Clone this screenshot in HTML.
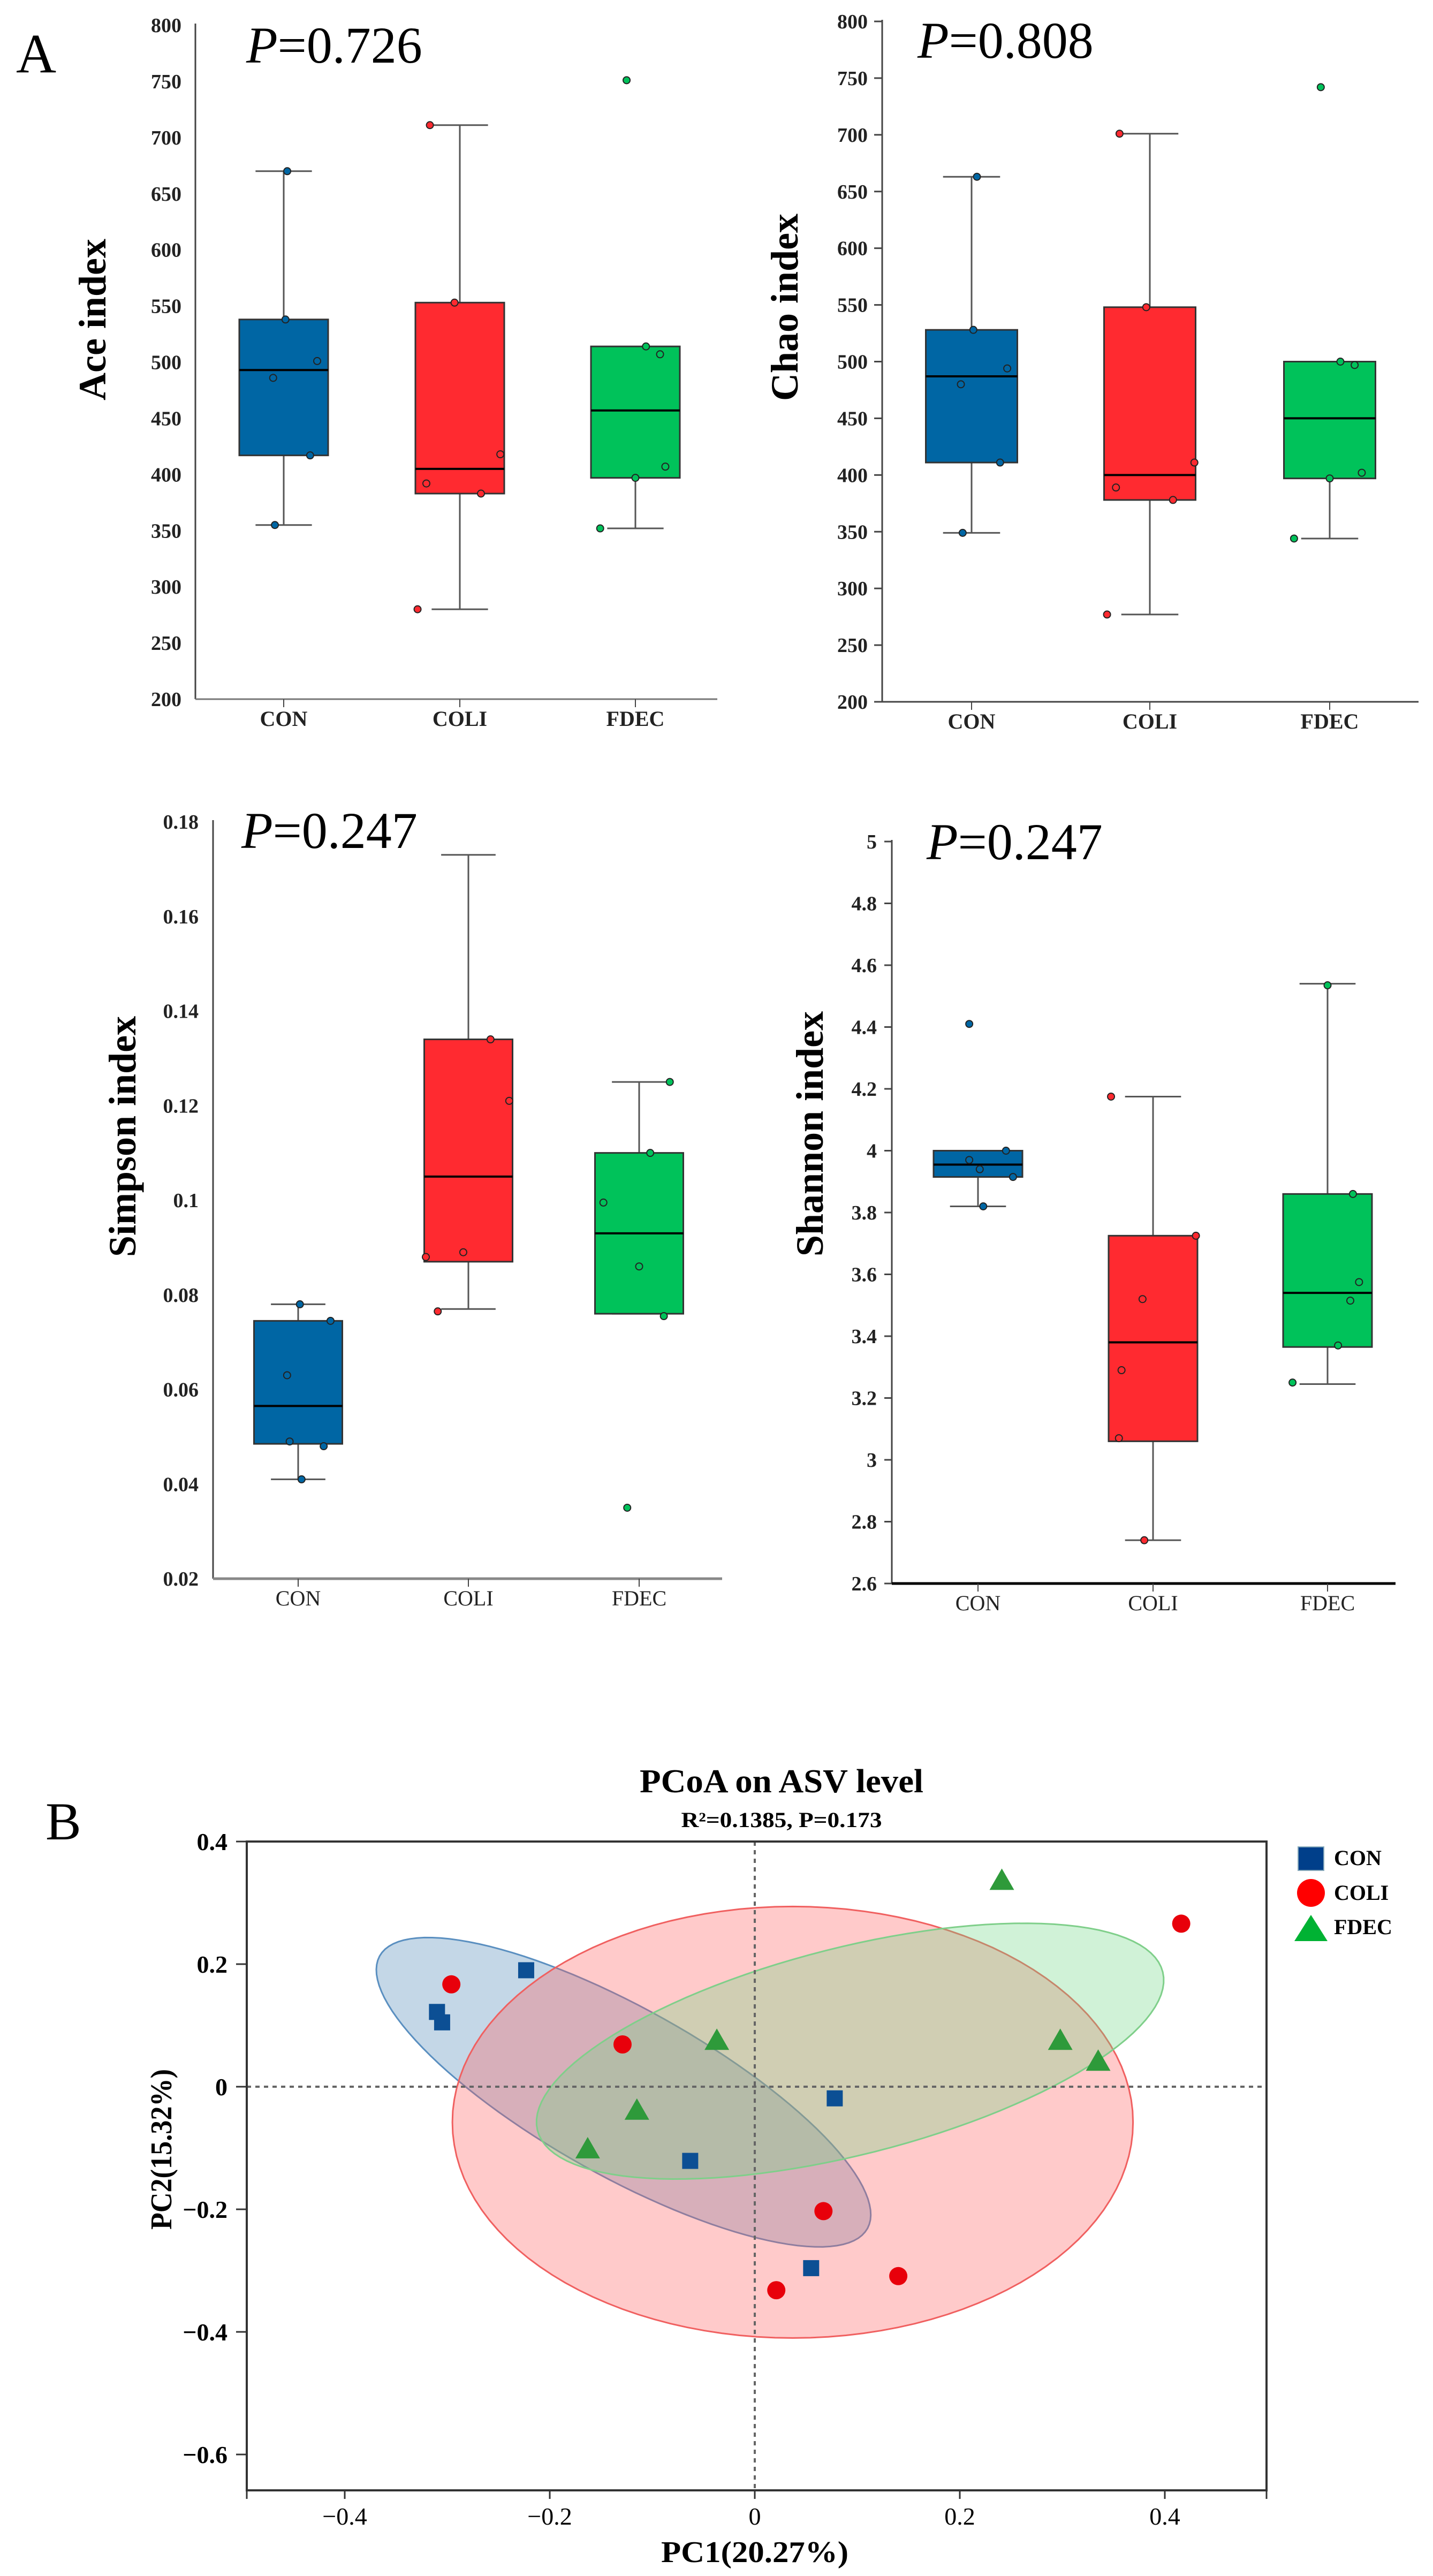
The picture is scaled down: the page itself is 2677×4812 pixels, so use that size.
<!DOCTYPE html>
<html><head><meta charset="utf-8"><style>
html,body{margin:0;padding:0;background:#fff}
svg{display:block}
text{font-family:"Liberation Serif",serif}
</style></head><body>
<svg id="fig" xmlns="http://www.w3.org/2000/svg" width="2677" height="4812" viewBox="0 0 2677 4812">
<text x="30" y="135" font-size="104">A</text>
<text x="85" y="3436" font-size="100">B</text>
<g id="boxes"></g>
<g id="pcoa"></g>
</svg>
<script>
const groups=["CON","COLI","FDEC"];
const colors=["#0066a4","#ff2a30","#00c25a"];
// Ace
const aceValues=[[670,538,501,486,417,355],[711,553,418,392,383,280],[751,514,507,407,397,352]];
const aceJitter=[[0.02,0.01,0.19,-0.06,0.15,-0.05],[-0.17,-0.03,0.23,-0.19,0.12,-0.24],[-0.05,0.06,0.14,0.17,0,-0.2]];
const aceStats=[[355,417,493,538,670],[280,383,405,553,711],[352,397,457,514,514]];
const aceTicks=[200,250,300,350,400,450,500,550,600,650,700,750,800];
// Chao
const chaoValues=[[663,528,494,480,411,349],[701,548,411,389,378,277],[742,500,497,402,397,344]];
const chaoJitter=[[0.03,0.01,0.2,-0.06,0.16,-0.05],[-0.17,-0.02,0.25,-0.19,0.13,-0.24],[-0.05,0.06,0.14,0.18,0,-0.2]];
const chaoStats=[[349,411,487,528,663],[277,378,400,548,701],[344,397,450,500,500]];
const chaoTicks=[200,250,300,350,400,450,500,550,600,650,700,750,800];
// Simpson
const simpValues=[[0.078,0.0745,0.063,0.049,0.048,0.041],[0.134,0.121,0.089,0.088,0.0765],[0.125,0.110,0.0995,0.086,0.0755,0.035]];
const simpJitter=[[0.01,0.19,-0.065,-0.05,0.15,0.02],[0.13,0.24,-0.03,-0.25,-0.18],[0.18,0.065,-0.21,0,0.145,-0.07]];
const simpStats=[[0.041,0.0485,0.0565,0.0745,0.078],[0.077,0.087,0.105,0.134,0.173],[0.076,0.076,0.093,0.110,0.125]];
const simpTicks=[0.02,0.04,0.06,0.08,0.1,0.12,0.14,0.16,0.18];
const simpTickLabels=["0.02","0.04","0.06","0.08","0.1","0.12","0.14","0.16","0.18"];
// Shannon
const shanValues=[[4.41,4.0,3.97,3.94,3.915,3.82],[4.175,3.725,3.52,3.29,3.07,2.74],[4.535,3.86,3.575,3.515,3.37,3.25]];
const shanJitter=[[-0.05,0.16,-0.05,0.01,0.2,0.03],[-0.24,0.245,-0.06,-0.18,-0.195,-0.05],[0,0.145,0.18,0.13,0.06,-0.2]];
const shanStats=[[3.82,3.915,3.955,4.0,4.0],[2.74,3.06,3.38,3.725,4.175],[3.245,3.365,3.54,3.86,4.54]];
const shanTicks=[2.6,2.8,3,3.2,3.4,3.6,3.8,4,4.2,4.4,4.6,4.8,5];
const shanTickLabels=["2.6","2.8","3","3.2","3.4","3.6","3.8","4","4.2","4.4","4.6","4.8","5"];

const NS="http://www.w3.org/2000/svg";
function mk(tag,attrs,parent){const e=document.createElementNS(NS,tag);for(const k in attrs)e.setAttribute(k,attrs[k]);parent.appendChild(e);return e;}

function boxPanel(cfg){
  const root=document.getElementById('boxes');
  const g=mk('g',{},root);
  
  
  const y=v=>cfg.yTop+(cfg.max-v)/(cfg.max-cfg.min)*(cfg.yBot-cfg.yTop);
  const band=cfg.centers[1]-cfg.centers[0];
  const ya=mk('line',{x1:cfg.axisX,y1:y(cfg.max)-3,x2:cfg.axisX,y2:cfg.yBot,stroke:'#444','stroke-width':3},g);
  
  
  const xa=mk('line',{x1:cfg.axisX,y1:cfg.yBot,x2:cfg.xEnd,y2:cfg.yBot,stroke:cfg.xColor,'stroke-width':cfg.xW},g);
  
  
  cfg.ticks.forEach((t,i)=>{
    if(cfg.tickLen) mk('line',{x1:cfg.axisX-cfg.tickLen,y1:y(t),x2:cfg.axisX,y2:y(t),stroke:'#444','stroke-width':3},g);
    const tx=mk('text',{x:cfg.labelX,y:y(t)+13,'font-size':38,'font-weight':'bold','text-anchor':'end',fill:'#222'},g);
    tx.textContent=cfg.tickLabels?cfg.tickLabels[i]:String(t);
    
    
  });
  groups.forEach((gr,i)=>{
    const cx=cfg.centers[i];
    mk('line',{x1:cx,y1:cfg.yBot,x2:cx,y2:cfg.yBot+15,stroke:'#444','stroke-width':2},g);
    const lb=mk('text',{x:cx,y:cfg.yBot+50,'font-size':40,'font-weight':cfg.catBold?'bold':'normal','text-anchor':'middle',fill:'#222'},g);
    lb.textContent=gr;
    
    
    const s=cfg.stats[i];const hw=cfg.boxW/2;const cap=0.16*band;
    const w1=mk('line',{x1:cx,y1:y(s[0]),x2:cx,y2:y(s[1]),stroke:'#555','stroke-width':3},g);
    
    
    const w2=mk('line',{x1:cx,y1:y(s[3]),x2:cx,y2:y(s[4]),stroke:'#555','stroke-width':3},g);
    
    
    mk('line',{x1:cx-cap,y1:y(s[0]),x2:cx+cap,y2:y(s[0]),stroke:'#555','stroke-width':3},g);
    if(s[4]>s[3]) mk('line',{x1:cx-cap,y1:y(s[4]),x2:cx+cap,y2:y(s[4]),stroke:'#555','stroke-width':3},g);
    const bx=mk('rect',{x:cx-hw,y:y(s[3]),width:cfg.boxW,height:y(s[1])-y(s[3]),fill:colors[i],stroke:'#333','stroke-width':3},g);
    
    
    const md=mk('line',{x1:cx-hw,y1:y(s[2]),x2:cx+hw,y2:y(s[2]),stroke:'#000','stroke-width':4},g);
    
    
    cfg.values[i].forEach((v,j)=>{
      const p=mk('circle',{cx:cx+cfg.jitter[i][j]*band,cy:y(v),r:6.5,fill:colors[i],stroke:'#222','stroke-width':2},g);
      
      
    });
  });
  const pt=mk('text',{x:cfg.pX,y:cfg.pY,'font-size':96},g);
  pt.innerHTML='<tspan font-style="italic">P</tspan>='+cfg.p;
  
  
  const yl=mk('text',{x:0,y:0,'font-size':72,'font-weight':'bold','text-anchor':'middle',transform:`translate(${cfg.ylX+25},${cfg.ylY}) rotate(-90)`},g);
  yl.textContent=cfg.ylabel;
  
  
}
boxPanel({name:'ace',axisX:365,xEnd:1340,yTop:47,yBot:1306,min:200,max:800,centers:[530,859,1187],boxW:166,ticks:aceTicks,labelX:339,tickLen:0,stats:aceStats,values:aceValues,jitter:aceJitter,pX:460,pY:117,p:'0.726',ylabel:'Ace index',ylX:172,ylY:597,xColor:'#777',xW:3,catBold:true});
boxPanel({name:'chao',axisX:1648,xEnd:2650,yTop:40,yBot:1311,min:200,max:800,centers:[1815,2148,2484],boxW:171,ticks:chaoTicks,labelX:1621,tickLen:15,stats:chaoStats,values:chaoValues,jitter:chaoJitter,pX:1714,pY:108,p:'0.808',ylabel:'Chao index',ylX:1465,ylY:574,xColor:'#444',xW:3,catBold:true});
boxPanel({name:'simpson',axisX:398,xEnd:1349,yTop:1535,yBot:2949,min:0.02,max:0.18,centers:[557,875,1194],boxW:165,ticks:simpTicks,tickLabels:simpTickLabels,labelX:371,tickLen:0,stats:simpStats,values:simpValues,jitter:simpJitter,pX:451,pY:1584,p:'0.247',ylabel:'Simpson index',ylX:228,ylY:2123,xColor:'#888',xW:5,catBold:false});
boxPanel({name:'shannon',axisX:1666,xEnd:2607,yTop:1572,yBot:2958,min:2.6,max:5,centers:[1827,2154,2480],boxW:166,ticks:shanTicks,tickLabels:shanTickLabels,labelX:1638,tickLen:14,stats:shanStats,values:shanValues,jitter:shanJitter,pX:1731,pY:1605,p:'0.247',ylabel:'Shannon index',ylX:1512,ylY:2118,xColor:'#000',xW:5,catBold:false});

// PCoA data
const conX=[-0.31,-0.305,-0.223,0.078,-0.063,0.055];
const conY=[0.122,0.105,0.19,-0.019,-0.121,-0.296];
const coliX=[-0.296,-0.129,0.067,0.021,0.14,0.416];
const coliY=[0.167,0.069,-0.203,-0.332,-0.309,0.266];
const fdecX=[0.241,-0.037,-0.115,-0.163,0.298,0.335];
const fdecY=[0.335,0.074,-0.04,-0.103,0.074,0.04];
const xTicks=[-0.4,-0.2,0,0.2,0.4];
const yTicks=[-0.6,-0.4,-0.2,0,0.2,0.4];
const ellCenters=[[-0.128,-0.009],[0.037,-0.058],[0.093,0.058]];
const ellMajor=[[0.238,-0.222],[0.332,0],[0.305,0.129]];
const ellMinor=[[-0.039,-0.12],[0,0.352],[0.024,-0.164]];

(function(){
  const root=document.getElementById('pcoa');
  const L=461,R=2366,T=3440,B=4652;
  const X=v=>1410+v*1915, Y=v=>3898-v*1145;
  const fills=['rgba(70,130,180,0.32)','rgba(255,90,90,0.32)','rgba(110,215,130,0.32)'];
  const strokes=['#5a8fc0','#f06060','#7fcf8a'];
  ellCenters.forEach((c,i)=>{
    let d='';
    for(let k=0;k<=120;k++){const t=k/120*2*Math.PI;
      const vx=c[0]+ellMajor[i][0]*Math.cos(t)+ellMinor[i][0]*Math.sin(t);
      const vy=c[1]+ellMajor[i][1]*Math.cos(t)+ellMinor[i][1]*Math.sin(t);
      d+=(k?'L':'M')+X(vx).toFixed(1)+' '+Y(vy).toFixed(1);}
    const e=mk('path',{d:d+'Z',fill:fills[i],stroke:strokes[i],'stroke-width':3},root);
    
    
  });
  mk('line',{x1:X(0),y1:T,x2:X(0),y2:B,stroke:'#666','stroke-width':4,'stroke-dasharray':'8 8'},root);
  mk('line',{x1:L,y1:Y(0),x2:R,y2:Y(0),stroke:'#666','stroke-width':4,'stroke-dasharray':'8 8'},root);
  const fr=mk('rect',{x:L,y:T,width:R-L,height:B-T,fill:'none',stroke:'#333','stroke-width':4},root);
  
  
  xTicks.forEach(t=>{
    mk('line',{x1:X(t),y1:B,x2:X(t),y2:B+16,stroke:'#333','stroke-width':3},root);
    const tx=mk('text',{x:X(t),y:4716,'font-size':46,'text-anchor':'middle'},root);
    tx.textContent=(t<0?'\u2212':'')+(Math.abs(t)===0?'0':String(Math.abs(t)));
    
    
  });
  [L,R].forEach(x=>mk('line',{x1:x,y1:B,x2:x,y2:B+16,stroke:'#333','stroke-width':3},root));
  yTicks.forEach(t=>{
    mk('line',{x1:L-20,y1:Y(t),x2:L,y2:Y(t),stroke:'#333','stroke-width':3},root);
    const tx=mk('text',{x:425,y:Y(t)+16,'font-size':46,'font-weight':'bold','text-anchor':'end'},root);
    tx.textContent=(t<0?'\u2212':'')+(Math.abs(t)===0?'0':String(Math.abs(t)));
    
    
  });
  conX.forEach((v,i)=>{const m=mk('rect',{x:X(v)-15,y:Y(conY[i])-15,width:30,height:30,fill:'#0c4f94'},root);
    
    });
  coliX.forEach((v,i)=>{const m=mk('circle',{cx:X(v),cy:Y(coliY[i]),r:17,fill:'#e8000b'},root);
    
    });
  fdecX.forEach((v,i)=>{const x=X(v),y=Y(fdecY[i]);const m=mk('polygon',{points:`${x},${y-24} ${x-23},${y+16} ${x+23},${y+16}`,fill:'#2e9a3a'},root);
    
    });
  const t1=mk('text',{x:1460,y:3348,'font-size':62,'font-weight':'bold','text-anchor':'middle',textLength:530,lengthAdjust:'spacingAndGlyphs'},root);
  t1.textContent='PCoA on ASV level';
  
  
  const t2=mk('text',{x:1460,y:3413,'font-size':40,'font-weight':'bold','text-anchor':'middle',textLength:375,lengthAdjust:'spacingAndGlyphs'},root);
  t2.textContent='R\u00b2=0.1385, P=0.173';
  
  
  const xt=mk('text',{x:1410,y:4786,'font-size':56,'font-weight':'bold','text-anchor':'middle',textLength:350,lengthAdjust:'spacingAndGlyphs'},root);
  xt.textContent='PC1(20.27%)';
  
  
  const yt=mk('text',{x:0,y:0,'font-size':56,'font-weight':'bold','text-anchor':'middle',textLength:300,lengthAdjust:'spacingAndGlyphs',transform:'translate(320,4015) rotate(-90)'},root);
  yt.textContent='PC2(15.32%)';
  
  
  const lg=mk('g',{},root);
  
  
  mk('rect',{x:2425,y:3450,width:48,height:44,fill:'#003f8a',stroke:'#8ab',"stroke-width":2},lg);
  mk('circle',{cx:2449,cy:3536,r:26,fill:'#ff0000'},lg);
  mk('polygon',{points:'2449,3577 2418,3626 2480,3626',fill:'#00b233'},lg);
  [['CON',3484],['COLI',3549],['FDEC',3613]].forEach(([s,yy])=>{
    const t=mk('text',{x:2492,y:yy,'font-size':40,'font-weight':'bold'},lg);
    t.textContent=s;
    
    
  });
})();
</script>
</body></html>
